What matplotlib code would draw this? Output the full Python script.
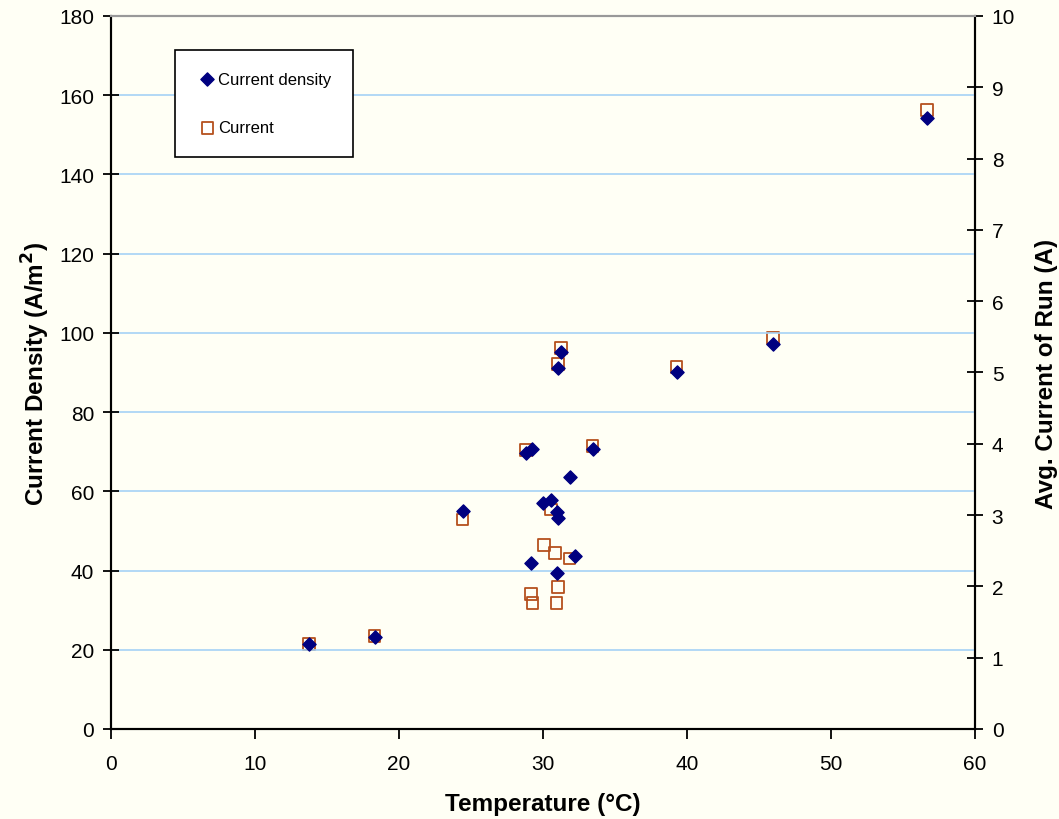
import matplotlib
matplotlib.use("Agg")
import matplotlib.pyplot as plt

plt.rcParams['font.family'] = ['Liberation Sans', 'DejaVu Sans']

# Current density series (left axis, A/m^2)
temp_density = [13.75, 18.3, 24.42, 28.82, 29.21, 29.17, 30.02, 30.56, 30.95, 31.06,
                30.95, 31.06, 31.27, 31.88, 32.25, 33.45, 39.28, 45.99, 56.65]
current_density = [21.5, 23.3, 55.1, 69.7, 70.7, 42.0, 57.05, 57.8, 54.7, 53.2,
                   39.3, 91.06, 95.25, 63.6, 43.7, 70.7, 90.2, 97.3, 154.3]

# Current series (right axis, A)
temp_current = [13.75, 18.3, 24.42, 28.82, 29.17, 29.26, 30.05, 30.56, 30.83, 30.95,
                31.06, 31.06, 31.27, 31.85, 33.45, 39.28, 45.99, 56.65]
avg_current = [1.19, 1.30, 2.94, 3.91, 1.89, 1.77, 2.58, 3.08, 2.47, 1.77,
               1.99, 5.12, 5.34, 2.39, 3.97, 5.08, 5.48, 8.68]

bg = '#FFFFF5'
fig = plt.figure(figsize=(10.59, 8.2), dpi=100, facecolor=bg)
ax = fig.add_axes([0.1048, 0.1098, 0.8159, 0.8695])
ax2 = ax.twinx()

ax.set_xlim(0, 60)
ax.set_ylim(0, 180)
ax2.set_ylim(0, 10)
ax.set_xticks(range(0, 61, 10))
ax.set_yticks(range(0, 181, 20))
ax2.set_yticks(range(0, 11, 1))

ax.yaxis.grid(True, color='#A6D2F5', linewidth=1.2)
ax.set_axisbelow(True)

h2 = ax2.scatter(temp_current, avg_current, marker='s', s=70, facecolors='none',
                 edgecolors='#B5501E', linewidths=1.3, label='Current', zorder=3)
h1 = ax.scatter(temp_density, current_density, marker='D', s=45, color='#000080',
                label='Current density', zorder=4)
ax.set_zorder(ax2.get_zorder() + 1)
ax.patch.set_visible(False)
ax2.patch.set_visible(True)
ax2.patch.set_facecolor(bg)

for a in (ax, ax2):
    for sp in ['left', 'right', 'bottom']:
        a.spines[sp].set_color('black')
    a.spines['top'].set_color('#999999')
    for sp in a.spines.values():
        sp.set_linewidth(1.5)

ax.tick_params(axis='y', direction='inout', length=12, width=1.3, labelsize=15, pad=6)
ax.tick_params(axis='x', direction='out', length=7, width=1.3, labelsize=15, pad=11)
ax2.tick_params(axis='y', direction='inout', length=12, width=1.3, labelsize=15, pad=6)

ax.set_xlabel('Temperature (°C)', fontsize=17.5, fontweight='bold', labelpad=14)
ax.set_ylabel('Current Density (A/m$^\\mathbf{2}$)', fontsize=17.5, fontweight='bold', labelpad=5)
ax2.set_ylabel('Avg. Current of Run (A)', fontsize=17.5, fontweight='bold', labelpad=14)

leg = ax.legend(handles=[h1, h2], loc='upper left', bbox_to_anchor=(0.074, 0.952),
                fontsize=12, frameon=True, fancybox=False, edgecolor='black',
                framealpha=1, facecolor='white', labelspacing=2.0, handletextpad=0.0,
                borderpad=1.3, handlelength=1.3, borderaxespad=0)
leg.get_frame().set_linewidth(1.2)

fig.savefig('out.png', dpi=100, facecolor=bg)
